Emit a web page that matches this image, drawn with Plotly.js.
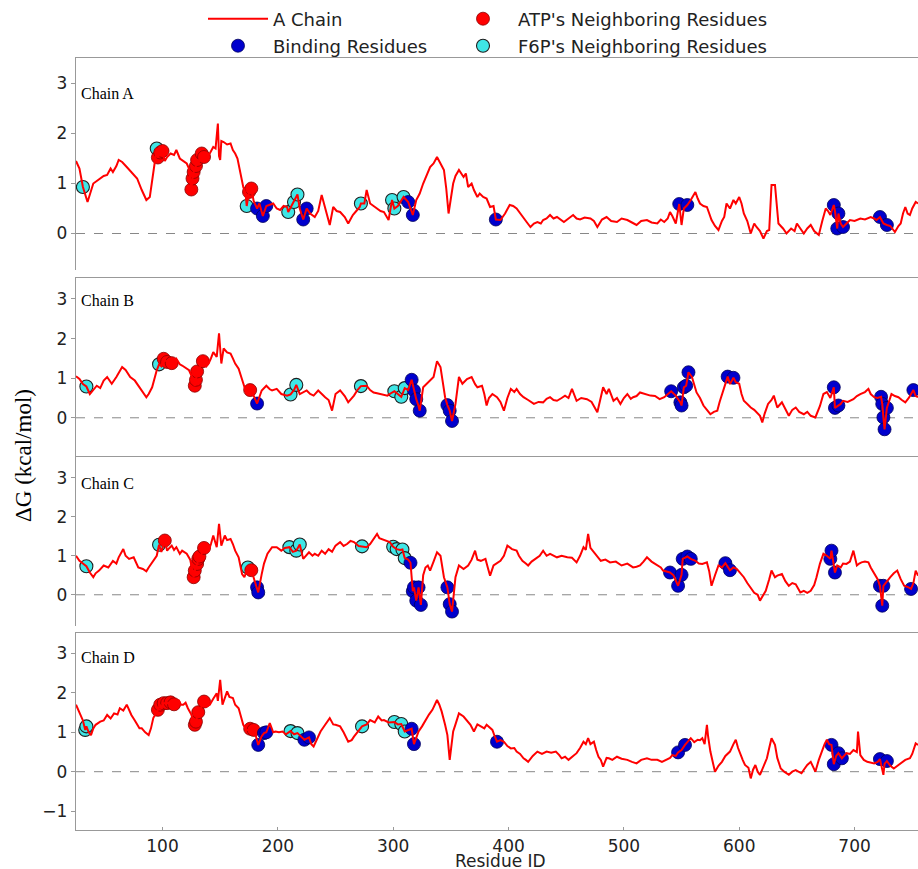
<!DOCTYPE html>
<html>
<head>
<meta charset="utf-8">
<script src="https://cdn.plot.ly/plotly-3.0.1.min.js"></script>
<style>html,body{margin:0;padding:0;background:#fff;}#chart{width:918px;height:869px;}</style>
</head>
<body>
<div id="chart"></div>
<script>
// ---------------- Chain A ----------------
const resA = [
25,28,31,35,40,43,46,49,52,55,
57,60,62,65,69,73,76,78,82,86,
89,92,94,95,96,98,100,102,104,107,
110,112,115,117,121,123,125,126,127,129,
130,132,134,136,138,141,144,146,148,149,
150,151,153,156,159,161,163,165,167,170,
172,173,175,177,179,182,184,187,190,193,
196,199,202,205,208,209,212,214,217,219,
222,225,228,232,235,238,241,245,248,251,
254,258,261,265,268,271,272,275,277,280,
283,286,289,292,296,299,301,304,307,309,
313,317,320,323,326,329,332,335,338,341,
344,346,348,350,352,354,357,361,363,365,
368,370,373,375,378,381,384,387,389,393,
397,401,404,407,410,413,416,419,422,425,
428,430,433,436,439,442,445,448,452,456,
459,462,466,471,474,477,481,485,489,494,
498,503,507,511,515,520,524,529,532,535,
538,540,542,545,548,550,552,555,558,562,
564,566,569,572,574,576,579,582,585,587,
589,592,595,597,600,602,604,607,610,613,
615,618,621,624,626,628,631,633,634,638,
641,645,648,650,653,656,659,662,665,669,
672,675,677,679,682,683,685,686,688,690,
693,696,700,705,709,714,717,719,722,725,
728,731,735,738,740,742,744,746,748,750,
753,755];
const dgA = [
1.45,1.3,0.93,0.63,1.0,1.05,1.1,1.15,1.17,1.3,
1.23,1.35,1.47,1.43,1.33,1.23,1.15,1.1,0.87,0.67,
0.73,1.17,1.47,1.7,1.52,1.62,1.65,1.45,1.53,1.6,
1.57,1.67,1.5,1.47,1.4,1.3,0.88,1.1,1.23,1.35,
1.47,1.45,1.6,1.53,1.53,1.6,1.73,1.7,2.2,1.55,
1.47,1.85,1.83,1.78,1.8,1.67,1.6,1.5,1.27,0.93,
0.8,0.55,0.83,0.9,0.65,0.5,0.6,0.35,0.55,0.58,
0.6,0.5,0.47,0.55,0.53,0.43,0.55,0.63,0.78,0.5,
0.28,0.5,0.4,0.33,0.45,0.77,0.53,0.17,0.53,0.45,
0.43,0.33,0.2,0.37,0.45,0.53,0.6,0.6,0.87,0.6,
0.55,0.5,0.45,0.43,0.27,0.67,0.5,0.55,0.65,0.73,
0.63,0.37,0.67,0.8,1.0,1.15,1.33,1.4,1.53,1.4,
1.27,0.9,0.4,0.7,1.0,1.15,1.27,1.13,1.2,0.93,
1.0,0.87,0.73,0.8,0.73,0.7,0.53,0.55,0.28,0.27,
0.4,0.57,0.55,0.5,0.4,0.3,0.22,0.13,0.2,0.23,
0.2,0.27,0.3,0.37,0.3,0.33,0.28,0.23,0.3,0.37,
0.3,0.28,0.32,0.3,0.25,0.13,0.28,0.33,0.25,0.23,
0.3,0.27,0.22,0.17,0.25,0.27,0.22,0.2,0.28,0.23,
0.3,0.43,0.35,0.2,0.59,0.17,0.5,0.57,0.67,0.83,
0.7,0.6,0.55,0.53,0.4,0.27,0.15,0.07,0.25,0.33,
0.6,0.5,0.67,0.6,0.73,0.6,0.4,0.25,0.0,0.2,
0.13,0.05,-0.1,0.05,0.07,0.97,0.97,0.4,0.2,0.1,
0.0,0.1,0.05,0.2,0.1,0.0,0.1,0.17,0.05,-0.03,
0.25,0.5,0.45,0.37,0.57,0.45,0.1,0.4,0.2,0.13,
0.2,0.27,0.25,0.3,0.28,0.33,0.3,0.27,0.33,0.2,
0.17,0.15,0.03,0.15,0.2,0.4,0.53,0.4,0.37,0.5,
0.63,0.6];
const atpA_res = [96,98,100,125,126,127,129,130,134,136,175,177];
const atpA_dg  = [1.52,1.62,1.65,0.88,1.1,1.23,1.35,1.47,1.6,1.53,0.83,0.9];
const f6pA_res = [31,95,173,209,214,217,272,299,301,309];
const f6pA_dg  = [0.93,1.7,0.55,0.43,0.63,0.78,0.6,0.67,0.5,0.73];
const bindA_res = [182,187,190,222,225,313,317,389,548,555,682,685,686,690,722,728];
const bindA_dg  = [0.5,0.35,0.55,0.28,0.5,0.63,0.37,0.28,0.59,0.57,0.57,0.1,0.4,0.13,0.33,0.17];

// ---------------- Chain B ----------------
const resB = [
25,28,31,34,37,40,43,46,49,52,
56,60,65,68,72,76,80,83,86,88,
91,95,97,99,101,104,106,108,110,112,
115,117,120,123,126,128,129,130,133,135,
138,140,142,144,147,149,151,153,156,159,
161,163,166,169,172,174,176,179,182,186,
190,193,195,199,203,208,211,214,216,219,
222,225,228,231,235,238,241,244,247,250,
254,258,261,266,269,272,277,280,283,286,
289,292,295,298,301,304,307,310,313,316,
318,320,322,323,326,329,332,335,338,341,
343,345,347,349,351,354,357,360,364,368,
371,373,377,379,381,383,386,390,393,396,
399,402,405,407,410,413,417,422,426,430,
433,436,439,442,446,449,452,455,459,463,
468,472,477,480,482,485,487,491,494,497,
500,503,506,508,511,514,518,523,527,531,
535,538,541,545,549,550,552,554,556,559,
561,563,566,569,572,575,578,581,583,585,
587,590,592,595,597,600,602,604,607,610,
613,615,618,620,622,625,628,630,633,637,
640,643,646,649,652,656,659,662,666,670,
673,676,679,682,683,686,688,690,694,699,
702,705,709,712,714,717,720,723,724,725,
726,728,730,732,735,738,741,744,747,751,
753,755];
const dgB = [
1.05,0.98,0.85,0.79,0.6,0.7,0.81,0.75,0.94,1.03,
0.86,1.03,1.28,1.21,1.03,0.94,0.77,0.65,0.52,0.6,
0.77,1.2,1.35,1.3,1.49,1.41,1.3,1.38,1.4,1.49,
1.35,1.32,1.25,1.2,1.0,0.81,0.96,1.17,1.3,1.43,
1.3,1.37,1.5,1.66,1.54,2.13,1.37,1.75,1.65,1.62,
1.5,1.37,1.24,0.94,0.69,0.68,0.7,0.56,0.36,0.69,
0.81,0.72,0.69,0.73,0.6,0.56,0.59,0.7,0.83,0.6,
0.65,0.69,0.6,0.56,0.69,0.6,0.52,0.45,0.18,0.6,
0.69,0.55,0.39,0.56,0.7,0.8,0.81,0.7,0.64,0.62,
0.6,0.58,0.56,0.62,0.67,0.6,0.53,0.75,0.7,0.96,
0.69,0.47,0.3,0.18,0.77,0.85,0.94,1.03,1.43,1.28,
0.9,0.52,0.32,0.18,-0.08,0.35,1.03,0.86,0.98,1.03,
0.85,0.77,0.81,0.6,0.31,0.5,0.6,0.52,0.4,0.18,
0.5,0.73,0.65,0.73,0.6,0.52,0.45,0.35,0.4,0.39,
0.48,0.52,0.45,0.43,0.5,0.56,0.5,0.73,0.43,0.5,
0.47,0.4,0.14,0.5,0.77,0.6,0.73,0.43,0.5,0.35,
0.5,0.6,0.48,0.52,0.55,0.64,0.6,0.56,0.55,0.47,
0.52,0.6,0.67,0.56,0.39,0.31,0.77,0.81,1.15,1.03,
0.8,0.64,0.5,0.31,0.2,0.09,0.15,0.18,0.4,0.6,
0.75,1.04,0.85,1.01,0.9,0.86,0.6,0.43,0.35,0.26,
0.2,0.14,0.05,-0.12,0.1,0.35,0.45,0.56,0.26,0.39,
0.2,0.05,0.2,0.26,0.15,0.09,0.15,0.05,0.01,0.3,
0.6,0.65,0.5,0.77,0.25,0.31,0.35,0.43,0.4,0.47,
0.55,0.6,0.65,0.73,0.6,0.52,0.5,0.53,0.35,0.01,
-0.29,0.25,0.4,0.6,0.55,0.52,0.45,0.39,0.5,0.7,
0.55,0.52];
const atpB_res = [101,104,108,128,129,130,135,176];
const atpB_dg  = [1.49,1.41,1.38,0.81,0.96,1.17,1.43,0.7];
const f6pB_res = [34,97,211,216,272,301,307,310];
const f6pB_dg  = [0.79,1.35,0.59,0.83,0.8,0.67,0.53,0.75];
const bindB_res = [182,316,318,320,323,347,349,351,541,549,550,552,554,556,590,595,682,683,686,723,724,725,726,728,751];
const bindB_dg  = [0.36,0.96,0.69,0.47,0.18,0.32,0.18,-0.08,0.67,0.39,0.31,0.77,0.81,1.15,1.04,1.01,0.77,0.25,0.31,0.53,0.35,0.01,-0.29,0.25,0.7];

// ---------------- Chain C ----------------
const resC = [
25,28,31,34,37,40,42,45,49,53,
57,60,62,66,68,71,75,79,83,86,
88,92,95,97,99,102,104,106,108,110,
112,115,117,121,124,127,128,130,131,132,
134,136,138,140,142,144,147,149,151,154,
156,159,161,163,166,169,171,174,177,180,
182,183,186,188,191,195,199,203,206,210,
213,216,219,222,227,230,232,235,238,241,
244,247,250,254,257,260,263,266,270,273,
277,280,282,286,288,290,294,297,300,303,
306,308,310,313,315,317,318,320,322,324,
326,328,330,332,335,338,341,342,344,347,
349,351,354,357,361,365,368,371,373,376,
380,382,384,387,390,393,396,399,403,407,
409,412,415,417,420,423,427,430,433,436,
439,442,446,451,455,459,462,465,467,469,
471,473,476,480,484,488,493,498,503,508,
511,514,517,520,524,529,532,534,537,540,
543,547,550,551,555,558,562,565,568,572,
574,576,579,582,585,588,592,595,598,601,
604,607,610,613,616,618,621,623,626,628,
631,633,637,640,643,646,649,651,653,656,
659,662,665,667,670,673,676,679,680,683,
685,688,690,693,696,699,702,704,706,709,
712,714,717,720,722,724,725,728,731,734,
737,740,743,746,749,751,753,755];
const dgC = [
1.0,0.87,0.8,0.73,0.57,0.45,0.55,0.62,0.75,0.7,
0.87,0.8,0.96,1.17,1.0,0.92,0.96,0.7,0.66,0.6,
0.7,0.87,1.0,1.28,1.1,1.39,1.13,1.2,1.26,1.15,
1.22,1.05,1.13,1.05,0.9,0.45,0.62,0.79,0.92,0.98,
1.05,1.2,1.1,1.13,1.3,1.52,1.22,1.82,1.26,1.52,
1.4,1.43,1.3,1.13,0.96,0.53,0.45,0.7,0.63,0.36,
0.19,0.06,0.53,0.8,1.05,1.22,1.22,1.13,1.2,1.22,
1.1,1.13,1.29,0.92,1.09,1.0,1.05,1.0,1.13,1.05,
1.17,1.1,1.26,1.35,1.25,1.3,1.38,1.35,1.25,1.24,
1.22,1.3,1.39,1.56,1.45,1.43,1.39,1.35,1.23,1.17,
1.15,1.16,0.94,0.9,0.82,0.09,0.19,-0.15,0.19,-0.26,
0.5,0.7,0.75,0.62,0.85,1.09,1.0,0.79,0.45,0.19,
-0.24,-0.43,0.45,0.75,0.66,0.75,0.9,1.13,0.9,0.87,
0.92,0.7,0.49,0.75,0.8,0.87,1.0,1.26,1.17,1.13,
1.0,0.87,0.8,0.75,0.85,0.92,1.0,1.13,1.0,1.05,
1.0,0.96,1.0,0.96,0.95,0.83,1.0,1.22,1.15,1.56,
1.2,1.13,1.0,0.87,0.9,0.83,0.85,0.75,0.8,0.7,
0.72,0.75,0.85,0.96,0.85,0.75,0.7,0.62,0.6,0.57,
0.5,0.23,0.51,0.92,0.98,0.92,0.87,0.8,0.79,0.83,
0.6,0.23,0.5,0.75,0.7,0.81,0.63,0.7,0.66,0.55,
0.45,0.3,0.19,0.05,0.0,-0.15,0.0,0.1,0.4,0.62,
0.45,0.49,0.53,0.35,0.23,0.3,0.27,0.15,0.06,0.1,
0.05,0.1,0.25,0.45,0.8,1.05,1.0,0.92,1.13,0.57,
0.75,0.7,0.8,0.79,0.85,1.13,0.75,0.8,0.83,0.85,
0.83,0.7,0.53,0.4,0.23,-0.28,0.23,0.35,0.45,0.55,
0.62,0.4,0.23,0.2,0.15,0.3,0.62,0.49];
const atpC_res = [102,127,128,130,131,132,136,177];
const atpC_dg  = [1.39,0.45,0.62,0.79,0.92,0.98,1.2,0.63];
const f6pC_res = [34,97,174,210,216,219,273,300,303,308,310];
const f6pC_dg  = [0.73,1.28,0.7,1.22,1.13,1.29,1.24,1.23,1.17,1.16,0.94];
const bindC_res = [182,183,315,317,318,320,322,324,347,349,351,540,547,550,551,555,558,588,592,679,680,683,722,724,725,749];
const bindC_dg  = [0.19,0.06,0.82,0.09,0.19,-0.15,0.19,-0.26,0.19,-0.24,-0.43,0.57,0.23,0.51,0.92,0.98,0.92,0.81,0.63,0.92,1.13,0.57,0.23,-0.28,0.23,0.15];

// ---------------- Chain D ----------------
const resD = [
25,27,29,31,33,34,36,38,40,42,
46,49,52,55,58,61,63,66,69,71,
73,76,78,80,82,85,88,90,92,94,
96,98,99,101,104,107,110,112,114,116,
118,120,122,125,128,129,131,133,136,138,
141,144,147,148,150,152,154,156,158,161,
163,166,168,170,173,176,179,181,183,186,
188,190,193,196,198,201,204,207,211,214,
217,220,223,227,229,231,234,237,241,245,
248,250,254,257,261,264,266,270,273,277,
280,284,287,290,292,296,301,304,307,310,
313,316,318,320,322,325,328,331,334,338,
340,342,345,347,349,351,352,354,357,361,
364,367,370,373,376,379,381,384,386,388,
390,393,396,399,402,405,407,410,413,415,
417,421,425,429,433,437,441,444,446,449,
452,456,459,462,465,467,469,471,474,476,
478,480,482,485,487,490,494,498,503,507,
511,515,520,524,529,533,537,540,542,545,
547,550,553,556,558,561,564,566,568,570,
572,573,575,577,579,582,585,588,592,595,
597,599,601,603,605,608,610,612,614,616,
618,621,624,626,628,631,633,636,639,643,
646,649,652,654,656,659,662,664,666,669,
672,674,676,678,680,682,684,686,689,691,
693,696,699,702,703,705,708,711,714,717,
720,722,725,726,728,731,734,737,741,744,
748,750,753,755];
const dgD = [
1.7,1.55,1.44,1.3,1.06,1.15,1.0,0.93,1.1,1.19,
1.27,1.3,1.44,1.35,1.48,1.45,1.61,1.55,1.7,1.55,
1.44,1.3,1.19,1.1,1.1,1.0,0.93,1.1,1.36,1.45,
1.57,1.7,1.6,1.74,1.74,1.76,1.71,1.7,1.82,1.7,
1.7,1.75,1.61,1.45,1.19,1.27,1.51,1.6,1.78,1.65,
1.7,1.85,1.99,1.8,2.33,1.7,1.9,2.04,1.9,1.87,
1.7,1.61,1.4,1.19,1.05,1.09,1.06,0.9,0.68,0.9,
0.98,1.0,1.23,1.0,1.02,1.0,1.02,0.95,1.03,0.95,
0.98,0.9,0.81,0.87,0.7,0.64,0.85,1.02,1.19,1.36,
1.2,1.19,1.15,1.0,0.76,0.8,0.89,1.05,1.15,1.2,
1.31,1.25,1.4,1.3,1.31,1.25,1.26,1.2,1.21,1.02,
1.05,1.09,0.7,0.85,1.02,1.15,1.31,1.45,1.57,1.82,
1.7,1.53,1.19,0.93,0.3,0.8,1.02,1.2,1.48,1.4,
1.3,1.19,1.02,1.2,1.15,1.1,1.19,1.1,1.06,0.9,
0.76,0.8,0.76,0.65,0.59,0.6,0.51,0.45,0.34,0.3,
0.25,0.4,0.51,0.45,0.51,0.48,0.51,0.42,0.34,0.38,
0.3,0.4,0.47,0.6,0.76,0.7,0.85,0.7,0.76,0.55,
0.38,0.3,0.13,0.35,0.34,0.3,0.38,0.33,0.3,0.25,
0.21,0.3,0.34,0.3,0.3,0.25,0.3,0.35,0.42,0.4,
0.49,0.55,0.68,0.8,0.85,0.75,0.81,0.8,0.85,0.7,
1.19,0.9,0.51,0.25,0.0,0.15,0.25,0.4,0.51,0.7,
0.81,0.6,0.42,0.3,0.17,0.1,-0.17,0.05,0.17,0.0,
-0.08,0.15,0.34,0.6,0.85,0.68,0.35,0.08,0.0,-0.08,
0.0,0.04,-0.02,-0.04,0.05,0.17,0.25,0.1,0.0,0.3,
0.55,0.7,0.81,0.7,0.68,0.19,0.4,0.47,0.34,0.4,
0.47,0.45,0.55,0.5,1.02,0.42,0.3,0.25,0.22,0.21,
0.25,0.32,-0.08,0.2,0.27,0.15,0.08,0.15,0.25,0.3,
0.34,0.45,0.72,0.68];
const atpD_res = [96,98,101,104,107,110,128,129,131,136,176,179];
const atpD_dg  = [1.57,1.7,1.74,1.74,1.76,1.71,1.19,1.27,1.51,1.78,1.09,1.06];
const f6pD_res = [33,34,211,217,273,301,307,310];
const f6pD_dg  = [1.06,1.15,1.03,0.98,1.15,1.26,1.21,1.02];
const bindD_res = [183,188,190,223,227,316,318,390,547,553,680,682,686,689,722,728];
const bindD_dg  = [0.68,0.98,1.0,0.81,0.87,1.09,0.7,0.76,0.49,0.68,0.68,0.19,0.47,0.34,0.32,0.27];

const chainNames = ['Chain A','Chain B','Chain C','Chain D'];
const xTicks = [100,200,300,400,500,600,700];
const legendNames = ['A Chain',"ATP's Neighboring Residues",'Binding Residues',"F6P's Neighboring Residues"];

// ---------------- build ----------------
const W = 918, H = 869;
const px = v => v / W;
const py = v => 1 - v / H;

const chains = [
  {res:resA, dg:dgA, atp:[atpA_res,atpA_dg], f6p:[f6pA_res,f6pA_dg], bind:[bindA_res,bindA_dg], top:58, bot:270, range:[-0.73,3.51], ticks:[0,1,2,3], labelY:93},
  {res:resB, dg:dgB, atp:[atpB_res,atpB_dg], f6p:[f6pB_res,f6pB_dg], bind:[bindB_res,bindB_dg], top:278, bot:457, range:[-0.99,3.53], ticks:[0,1,2,3], labelY:300},
  {res:resC, dg:dgC, atp:[atpC_res,atpC_dg], f6p:[f6pC_res,f6pC_dg], bind:[bindC_res,bindC_dg], top:457, bot:626, range:[-0.8,3.53], ticks:[0,1,2,3], labelY:483},
  {res:resD, dg:dgD, atp:[atpD_res,atpD_dg], f6p:[f6pD_res,f6pD_dg], bind:[bindD_res,bindD_dg], top:633, bot:830, range:[-1.48,3.52], ticks:[-1,0,1,2,3], labelY:657}
];

const problems = [];
chains.forEach((c,i)=>{
  if (c.res.length !== c.dg.length) problems.push(chainNames[i]+' '+c.res.length+'/'+c.dg.length);
  ['atp','f6p','bind'].forEach(k=>{ if (c[k][0].length!==c[k][1].length) problems.push(chainNames[i]+' '+k); });
});

const legFont = {family: 'DejaVu Sans, sans-serif', size: 18, color: '#222'};
function legendAt(xPix, yPix) {
  return {orientation:'v', x: px(xPix), y: py(yPix), xanchor:'left', yanchor:'middle',
    font: legFont, itemwidth: 60, bgcolor:'rgba(0,0,0,0)', borderwidth: 0};
}

const traces = [];
const layout = {
  width: W, height: H,
  margin: {l:0, r:0, t:0, b:0},
  paper_bgcolor: '#ffffff', plot_bgcolor: '#ffffff',
  font: {family: 'DejaVu Sans, sans-serif', size: 17, color: '#222'},
  showlegend: true,
  legend:  legendAt(203, 19),
  legend2: legendAt(448, 19),
  legend3: legendAt(203, 46),
  legend4: legendAt(448, 46),
  shapes: [], annotations: []
};

const axColor = '#999999';
chains.forEach((c,i)=>{
  const n = i+1;
  const xa = n===1 ? 'x' : 'x'+n;
  const ya = n===1 ? 'y' : 'y'+n;
  const xkey = n===1 ? 'xaxis' : 'xaxis'+n;
  const ykey = n===1 ? 'yaxis' : 'yaxis'+n;
  const isBottom = (n===4);
  layout[xkey] = {
    domain: [px(76), 1], anchor: ya,
    range: [25, 755], showgrid: false, zeroline: false,
    showline: true, linecolor: axColor, linewidth: 1.3,
    side: isBottom ? 'bottom' : 'top',
    mirror: isBottom ? true : false,
    showticklabels: isBottom,
    ticks: isBottom ? 'inside' : '', ticklen: 3, tickcolor: axColor,
    tickvals: xTicks, ticktext: xTicks.map(String),
    tickfont: {family:'DejaVu Sans, sans-serif', size:17, color:'#222'}
  };
  if (n!==1) layout[xkey].matches = 'x';
  layout[ykey] = {
    domain: [py(c.bot), py(c.top)], anchor: xa,
    range: c.range, showgrid: false, zeroline: false,
    showline: true, linecolor: axColor, linewidth: 1.3,
    ticks: 'outside', ticklen: 4, tickcolor: axColor,
    tickvals: c.ticks, ticktext: c.ticks.map(v => v<0 ? '\u2212'+Math.abs(v) : String(v)),
    tickfont: {family:'DejaVu Sans, sans-serif', size:17, color:'#222'}
  };
  layout.shapes.push({type:'line', xref: xa+' domain', yref: ya, x0:0, x1:1, y0:0, y1:0,
    line:{color:'#888888', width:1, dash:'dash'}, layer:'below'});
  layout.annotations.push({text: chainNames[i], xref:'paper', yref:'paper', x: px(79), y: py(c.labelY),
    xanchor:'left', yanchor:'middle', showarrow:false,
    font:{family:'Liberation Serif, Times New Roman, serif', size:16, color:'#000'}});

  const first = (n===1);
  traces.push({type:'scatter', mode:'markers', x:c.f6p[0], y:c.f6p[1], xaxis:xa, yaxis:ya,
    name: legendNames[3], legend:'legend4', showlegend: first,
    marker:{size:13, color:'#3fe6e6', line:{color:'#1f1f1f', width:1.1}}});
  traces.push({type:'scatter', mode:'markers', x:c.atp[0], y:c.atp[1], xaxis:xa, yaxis:ya,
    name: legendNames[1], legend:'legend2', showlegend: first,
    marker:{size:13, color:'#ff0000', line:{color:'#8a0000', width:0.8}}});
  traces.push({type:'scatter', mode:'markers', x:c.bind[0], y:c.bind[1], xaxis:xa, yaxis:ya,
    name: legendNames[2], legend:'legend3', showlegend: first,
    marker:{size:13, color:'#0000cd', line:{color:'#00005a', width:0.8}}});
  traces.push({type:'scatter', mode:'lines', x:c.res, y:c.dg, xaxis:xa, yaxis:ya,
    name: legendNames[0], legend:'legend', showlegend: first,
    line:{color:'#ff0000', width:2}});
});

layout.annotations.push({text:'\u0394G (kcal/mol)', xref:'paper', yref:'paper', x:px(23), y:py(456),
  textangle:-90, showarrow:false, xanchor:'center', yanchor:'middle',
  font:{family:'Liberation Serif, Times New Roman, serif', size:23, color:'#000'}});
layout.annotations.push({text:'Residue ID', xref:'paper', yref:'paper', x:px(501), y:py(861),
  showarrow:false, xanchor:'center', yanchor:'middle',
  font:{family:'DejaVu Sans, sans-serif', size:17, color:'#222'}});
if (problems.length) {
  layout.annotations.push({text:'LEN: '+problems.join('; '), xref:'paper', yref:'paper', x:0.5, y:0.5,
    showarrow:false, font:{size:20, color:'#00aa00'}});
}

Plotly.newPlot('chart', traces, layout, {displayModeBar:false, staticPlot:true});
</script>
</body>
</html>
